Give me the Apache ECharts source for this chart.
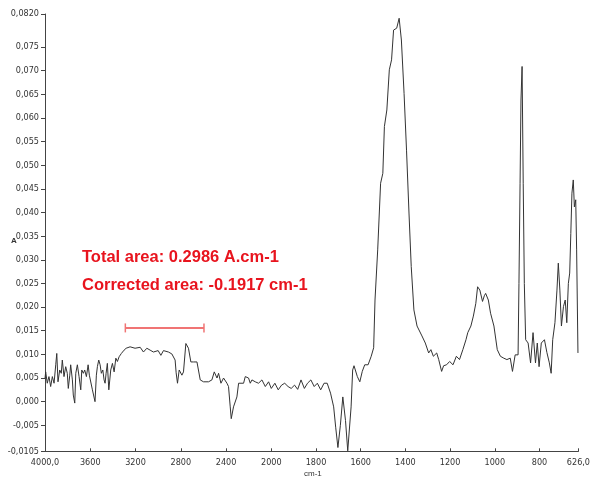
<!DOCTYPE html>
<html>
<head>
<meta charset="utf-8">
<script src="https://cdn.jsdelivr.net/npm/echarts@6/dist/echarts.min.js"></script>
<style>html,body{margin:0;padding:0;background:#fff}#c{width:593px;height:479px}</style>
</head>
<body>
<div id="c"></div>
<script>
// IR spectrum: [wavenumber (cm-1), absorbance (A)]
const spectrum = [
[4000,0.0049],[3994,0.0063],[3980,0.0039],[3965,0.0053],[3950,0.0032],[3935,0.0053],[3920,0.0039],[3905,0.0078],[3896,0.0102],[3885,0.0042],
[3870,0.0067],[3856,0.0060],[3847,0.0088],[3832,0.0053],[3817,0.0074],[3803,0.0060],[3794,0.0028],[3781,0.0056],[3773,0.0078],[3758,0.0046],
[3750,0.0014],[3737,-0.0003],[3728,0.0060],[3714,0.0078],[3699,0.0053],[3684,0.0025],[3675,0.0067],[3661,0.0060],[3649,0.0067],[3634,0.0053],
[3619,0.0078],[3608,0.0056],[3596,0.0060],[3581,0.0025],[3566,0.0021],[3558,0.0000],[3546,0.0056],[3537,0.0074],[3525,0.0088],[3513,0.0078],
[3502,0.0060],[3489,0.0067],[3478,0.0046],[3469,0.0039],[3460,0.0060],[3449,0.0081],[3436,0.0025],[3427,0.0021],[3419,0.0067],[3404,0.0081],
[3389,0.0063],[3374,0.0092],[3360,0.0085],[3345,0.0095],[3325,0.0102],[3301,0.0109],[3283,0.0113],[3277,0.0115],[3248,0.0116],[3204,0.0113],
[3159,0.0115],[3130,0.0105],[3100,0.0113],[3071,0.0109],[3042,0.0105],[3000,0.0108],[2976,0.0098],[2953,0.0108],[2909,0.0105],[2879,0.0101],
[2850,0.0088],[2841,0.0061],[2829,0.0039],[2814,0.0067],[2790,0.0056],[2776,0.0063],[2755,0.0123],[2732,0.0113],[2711,0.0084],[2688,0.0084],
[2657,0.0084],[2628,0.0046],[2599,0.0042],[2555,0.0042],[2525,0.0046],[2504,0.0063],[2480,0.0050],[2466,0.0060],[2445,0.0039],[2422,0.0050],
[2392,0.0039],[2378,0.0032],[2363,-0.0011],[2354,-0.0036],[2334,-0.0011],[2304,0.0010],[2289,0.0039],[2274,0.0042],[2245,0.0039],[2230,0.0053],
[2201,0.0050],[2186,0.0039],[2171,0.0046],[2142,0.0042],[2113,0.0039],[2083,0.0046],[2053,0.0032],[2024,0.0042],[2000,0.0028],
[1984,0.0039],[1969,0.0025],[1954,0.0035],[1940,0.0039],[1925,0.0032],[1911,0.0028],[1896,0.0035],[1882,0.0026],[1867,0.0046],[1852,0.0028],
[1838,0.0039],[1823,0.0046],[1808,0.0032],[1794,0.0039],[1779,0.0025],[1764,0.0039],[1750,0.0039],[1735,0.0018],[1728,0.0014],[1721,-0.0011],
[1712,-0.0054],[1702,-0.0097],[1691,-0.0050],[1680,0.0010],[1677,0.0008],[1668,-0.0040],[1658,-0.0104],[1655,-0.0104],[1643,-0.0011],[1636,0.0067],
[1630,0.0076],[1624,0.0078],[1615,0.0053],[1604,0.0042],[1593,0.0064],[1582,0.0078],[1567,0.0078],[1553,0.0096],[1542,0.0114],[1536,0.0215],
[1524,0.0321],[1511,0.0462],[1501,0.0483],[1494,0.0582],[1483,0.0617],[1472,0.0702],[1462,0.0723],[1453,0.0786],[1439,0.0790],[1428,0.0811],
[1424,0.0814],[1418,0.0765],[1406,0.0652],[1395,0.0532],[1384,0.0399],[1374,0.0286],[1362,0.0194],[1348,0.0160],[1326,0.0139],[1311,0.0124],
[1296,0.0103],[1286,0.0110],[1275,0.0096],[1260,0.0103],[1251,0.0089],[1238,0.0064],[1229,0.0076],[1216,0.0078],[1202,0.0085],[1187,0.0078],
[1172,0.0096],[1158,0.0089],[1143,0.0110],[1129,0.0131],[1121,0.0146],[1107,0.0160],[1096,0.0181],[1085,0.0208],[1077,0.0243],[1067,0.0236],
[1055,0.0212],[1047,0.0224],[1041,0.0229],[1029,0.0215],[1019,0.0187],[1004,0.0160],[989,0.0110],[975,0.0096],[960,0.0092],[946,0.0089],
[931,0.0092],[921,0.0064],[909,0.0099],[896,0.0099],[892,0.0250],[887,0.0462],[883,0.0638],[878,0.0709],[873,0.0462],[868,0.0250],
[862,0.0131],[851,0.0124],[840,0.0082],[829,0.0146],[818,0.0082],[810,0.0124],[802,0.0074],[792,0.0124],[778,0.0131],[767,0.0104],
[756,0.0082],[748,0.0060],[741,0.0131],[731,0.0167],[722,0.0236],[716,0.0293],[709,0.0236],[702,0.0160],[693,0.0201],[685,0.0215],
[678,0.0167],[671,0.0250],[665,0.0272],[660,0.0356],[655,0.0441],[649,0.0469],[644,0.0412],[638,0.0427],[634,0.0321],[628,0.0103],[626,0.0103]
];
const yTicks = [-0.0105,-0.005,0,0.005,0.01,0.015,0.02,0.025,0.03,0.035,0.04,0.045,0.05,0.055,0.06,0.065,0.07,0.075,0.082];
const xTicksHigh = [4000,3600,3200,2800,2400,2000];
const xTicksLow = [1800,1600,1400,1200,1000,800,626];
const areaText = ['Total area: 0.2986 A.cm-1', 'Corrected area: -0.1917 cm-1'];
const regionBounds = [3290, 2595];
const regionLevel = 0.0156;
const yMin = -0.0105, yMax = 0.082;
const splitAt = 2000;

const highPart = spectrum.filter(p => p[0] >= splitAt);
const lowPart = spectrum.filter(p => p[0] <= splitAt);

const FF = '"Liberation Sans Narrow","DejaVu Sans Condensed","Liberation Sans",sans-serif';
function fmtY(v){
  if (Math.abs(v - 0.082) < 1e-9) return '0,0820';
  if (Math.abs(v + 0.0105) < 1e-9) return '-0,0105';
  return v.toFixed(3).replace('.', ',');
}
function fmtX(v){
  if (v === 4000 || v === 626) return v.toFixed(1).replace('.', ',');
  return String(v);
}
const axisCol = '#444';
function xAx(idx, min, max, ticks){
  return {
    type:'value', gridIndex:idx, min:min, max:max, inverse:true,
    axisLine:{show:true, onZero:false, lineStyle:{color:axisCol, width:1}},
    axisTick:{show:true, inside:true, length:3, customValues:ticks, lineStyle:{color:axisCol}},
    axisLabel:{customValues:ticks, formatter:fmtX, margin:7, fontSize:9, color:'#333', fontFamily:FF},
    splitLine:{show:false}
  };
}
const chart = echarts.init(document.getElementById('c'));
chart.setOption({
  animation:false,
  backgroundColor:'#fff',
  grid:[
    {left:45, top:14, width:226.3, height:437.3},
    {left:271.3, top:14, width:313.3, height:437.3}
  ],
  xAxis:[ xAx(0, 2000, 4000, xTicksHigh), xAx(1, 626, 2000, xTicksLow) ],
  yAxis:[
    {type:'value', gridIndex:0, min:yMin, max:yMax,
     axisLine:{show:true, lineStyle:{color:axisCol, width:1}},
     axisTick:{show:true, length:4, customValues:yTicks, lineStyle:{color:axisCol}},
     axisLabel:{customValues:yTicks, formatter:fmtY, margin:6, fontSize:9, color:'#333', fontFamily:FF},
     splitLine:{show:false}},
    {type:'value', gridIndex:1, min:yMin, max:yMax, show:false, splitLine:{show:false}}
  ],
  series:[
    {type:'line', xAxisIndex:0, yAxisIndex:0, data:highPart, symbol:'none', showSymbol:false,
     lineStyle:{color:'#333', width:1}, z:3},
    {type:'line', xAxisIndex:1, yAxisIndex:1, data:lowPart, symbol:'none', showSymbol:false,
     lineStyle:{color:'#333', width:1}, z:3},
    {type:'line', xAxisIndex:0, yAxisIndex:0, data:regionBounds.map(v => [v, regionLevel]),
     symbol:'rect', symbolSize:[1.5, 9], showSymbol:true,
     itemStyle:{color:'#f07474'}, lineStyle:{color:'#f07474', width:2}, z:4}
  ],
  graphic:[
    {type:'text', x:82, y:257, style:{text:areaText[0], font:'bold 16.5px "Liberation Sans", Arial, sans-serif', fill:'#e8141e', verticalAlign:'middle'}},
    {type:'text', x:82, y:285, style:{text:areaText[1], font:'bold 16.5px "Liberation Sans", Arial, sans-serif', fill:'#e8141e', verticalAlign:'middle'}},
    {type:'text', x:11, y:241, style:{text:'A', font:'bold 8px "Liberation Sans", sans-serif', fill:'#333', verticalAlign:'middle'}},
    {type:'text', x:304, y:474, style:{text:'cm-1', font:'8px "Liberation Sans", sans-serif', fill:'#333', verticalAlign:'middle'}}
  ]
});
</script>
</body>
</html>
